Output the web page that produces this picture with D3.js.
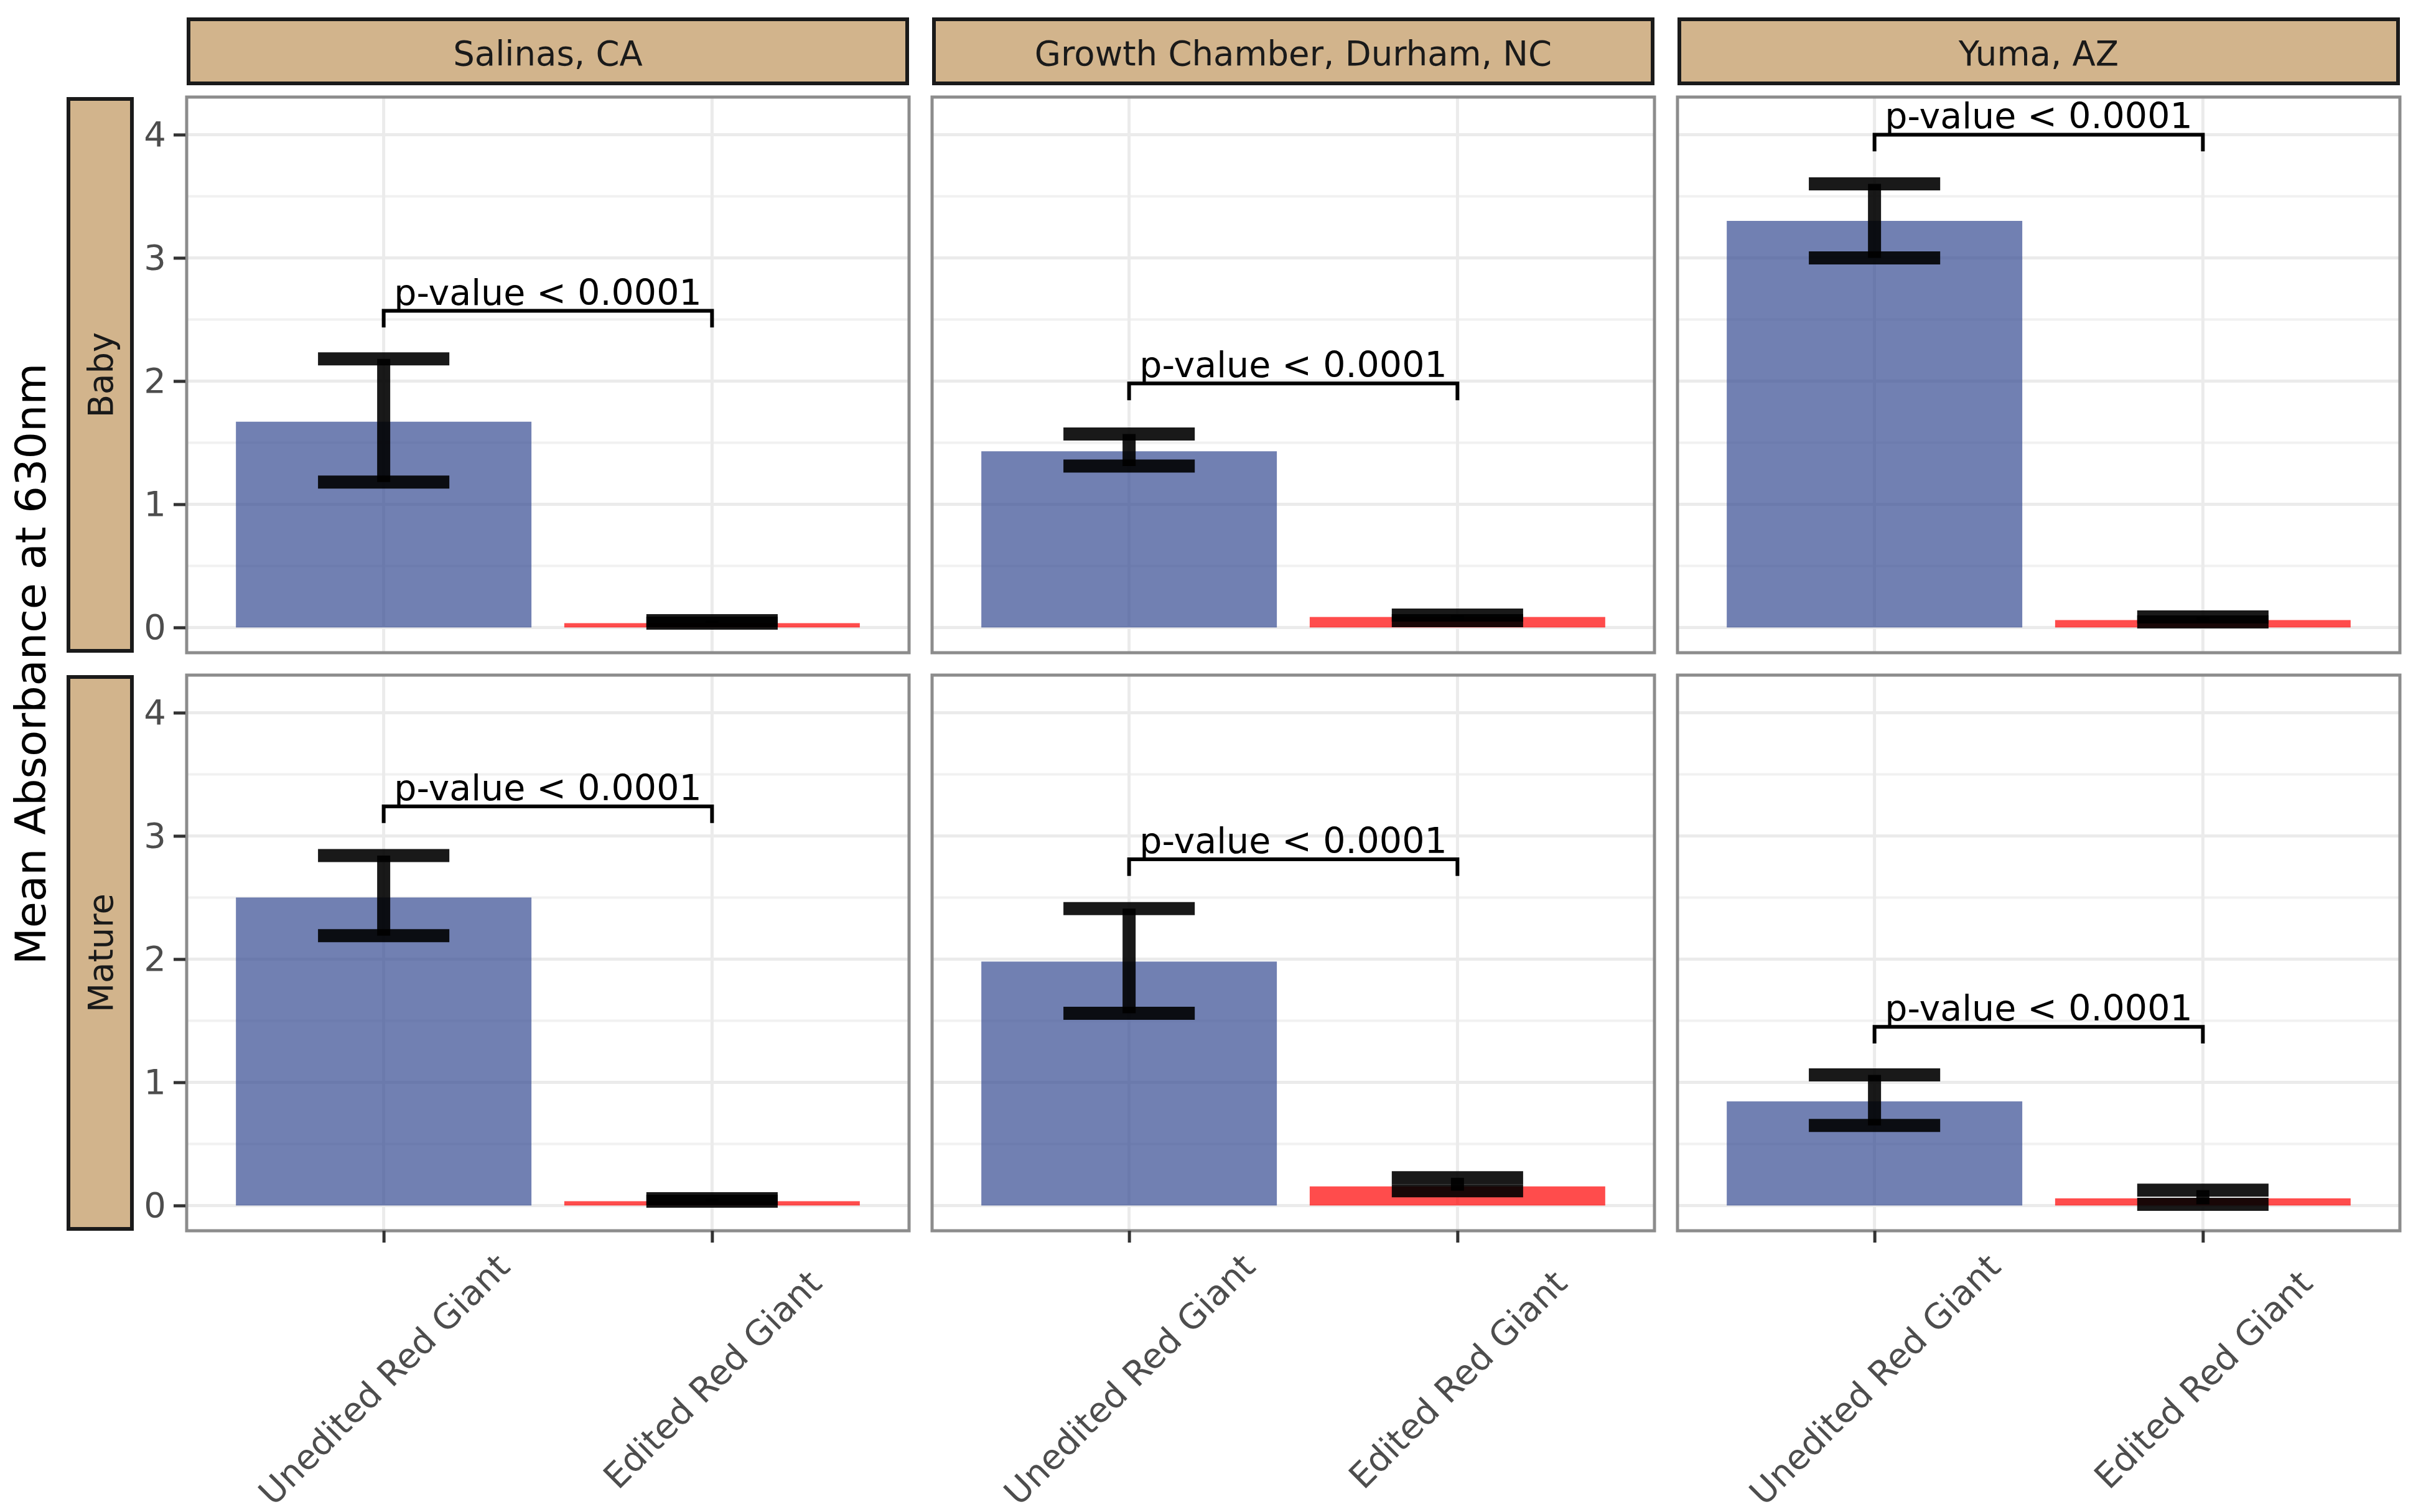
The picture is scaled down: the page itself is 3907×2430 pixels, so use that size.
<!DOCTYPE html>
<html>
<head>
<meta charset="utf-8">
<script src="https://cdn.jsdelivr.net/npm/d3@7"></script>
<style>
  html, body { margin: 0; padding: 0; background: #fff; }
  svg { display: block; font-family: "DejaVu Sans", sans-serif; }
</style>
</head>
<body>
<svg id="chart" width="3907" height="2430"></svg>
<script>
// facet labels
var locations = ["Salinas, CA", "Growth Chamber, Durham, NC", "Yuma, AZ"];
var stages = ["Baby", "Mature"];
var genotypes = ["Unedited Red Giant", "Edited Red Giant"];

// mean absorbance [location][genotype]
var meanBaby   = [[1.67, 0.035], [1.43, 0.085], [3.30, 0.06]];
var lowBaby    = [[1.18, 0.035], [1.31, 0.055], [3.00, 0.045]];
var highBaby   = [[2.18, 0.055], [1.57, 0.10],  [3.60, 0.085]];
var meanMature = [[2.50, 0.035], [1.98, 0.155], [0.845, 0.058]];
var lowMature  = [[2.19, 0.035], [1.56, 0.12],  [0.65, 0.01]];
var highMature = [[2.84, 0.055], [2.41, 0.225], [1.06, 0.125]];

// significance brackets [stage][location]
var bracketY = [[2.57, 1.98, 4.00], [3.24, 2.81, 1.45]];
var pLabel = "p-value < 0.0001";

var yTicks = [0, 1, 2, 3, 4];
var yMinor = [0.5, 1.5, 2.5, 3.5];

var rows = [
  { mean: meanBaby, low: lowBaby, high: highBaby },
  { mean: meanMature, low: lowMature, high: highMature }
];

var fills = ["#344A91", "#FF0000"];

// layout
var panelW = 1161, panelH = 893;
var colX = [300, 1498, 2696];
var rowY = [156, 1085];

var svg = d3.select("#chart");

var x = d3.scaleLinear().domain([0.4, 2.6]).range([0, panelW]);
var y = d3.scaleLinear().domain([-0.205, 4.305]).range([panelH, 0]);
var unit = x(1) - x(0);

// column strips
locations.forEach(function(loc, c) {
  var g = svg.append("g").attr("transform", "translate(" + colX[c] + ",28)");
  g.append("rect")
    .attr("x", 3).attr("y", 3)
    .attr("width", panelW - 6).attr("height", 103)
    .attr("fill", "#D2B48C").attr("stroke", "#1A1A1A").attr("stroke-width", 6);
  g.append("text")
    .attr("x", panelW / 2).attr("y", 77)
    .attr("text-anchor", "middle")
    .attr("font-size", 54.5).attr("fill", "#1A1A1A")
    .text(loc);
});

// row strips
stages.forEach(function(st, r) {
  var g = svg.append("g").attr("transform", "translate(107," + rowY[r] + ")");
  g.append("rect")
    .attr("x", 3).attr("y", 3)
    .attr("width", 102).attr("height", panelH - 6)
    .attr("fill", "#D2B48C").attr("stroke", "#1A1A1A").attr("stroke-width", 6);
  g.append("text")
    .attr("transform", "translate(74," + (panelH / 2) + ") rotate(-90)")
    .attr("text-anchor", "middle")
    .attr("font-size", 54.5).attr("fill", "#1A1A1A")
    .text(st);
});

// y title
svg.append("text")
  .attr("transform", "translate(73," + (rowY[0] + (rowY[1] + panelH - rowY[0]) / 2) + ") rotate(-90)")
  .attr("text-anchor", "middle")
  .attr("font-size", 68.5).attr("fill", "#000")
  .text("Mean Absorbance at 630nm");

rows.forEach(function(row, r) {
  locations.forEach(function(loc, c) {
    var g = svg.append("g").attr("transform", "translate(" + colX[c] + "," + rowY[r] + ")");

    // grid
    g.selectAll(".minor").data(yMinor).enter().append("line")
      .attr("x1", 0).attr("x2", panelW)
      .attr("y1", function(d) { return y(d); }).attr("y2", function(d) { return y(d); })
      .attr("stroke", "#F1F1F1").attr("stroke-width", 4);
    g.selectAll(".major").data(yTicks).enter().append("line")
      .attr("x1", 0).attr("x2", panelW)
      .attr("y1", function(d) { return y(d); }).attr("y2", function(d) { return y(d); })
      .attr("stroke", "#EBEBEB").attr("stroke-width", 5);
    g.selectAll(".vmajor").data([1, 2]).enter().append("line")
      .attr("x1", function(d) { return x(d); }).attr("x2", function(d) { return x(d); })
      .attr("y1", 0).attr("y2", panelH)
      .attr("stroke", "#EBEBEB").attr("stroke-width", 5);

    // bars
    var data = genotypes.map(function(gt, i) {
      return { i: i + 1, mean: row.mean[c][i], low: row.low[c][i], high: row.high[c][i] };
    });
    g.selectAll(".bar").data(data).enter().append("rect")
      .attr("x", function(d) { return x(d.i - 0.45); })
      .attr("width", unit * 0.9)
      .attr("y", function(d) { return y(d.mean); })
      .attr("height", function(d) { return y(0) - y(d.mean); })
      .attr("fill", function(d) { return fills[d.i - 1]; })
      .attr("fill-opacity", 0.7);

    // error bars
    var eb = g.selectAll(".eb").data(data).enter().append("g")
      .attr("stroke", "#000").attr("stroke-opacity", 0.9).attr("stroke-width", 21);
    eb.append("line")
      .attr("x1", function(d) { return x(d.i); }).attr("x2", function(d) { return x(d.i); })
      .attr("y1", function(d) { return y(d.low); }).attr("y2", function(d) { return y(d.high); });
    eb.append("line")
      .attr("x1", function(d) { return x(d.i - 0.2); }).attr("x2", function(d) { return x(d.i + 0.2); })
      .attr("y1", function(d) { return y(d.high); }).attr("y2", function(d) { return y(d.high); });
    eb.append("line")
      .attr("x1", function(d) { return x(d.i - 0.2); }).attr("x2", function(d) { return x(d.i + 0.2); })
      .attr("y1", function(d) { return y(d.low); }).attr("y2", function(d) { return y(d.low); });

    // significance bracket
    var by = bracketY[r][c];
    var tip = 0.03 * (y.domain()[1] - y.domain()[0]);
    g.append("path")
      .attr("d", d3.line()([[x(1), y(by - tip)], [x(1), y(by)], [x(2), y(by)], [x(2), y(by - tip)]]))
      .attr("fill", "none").attr("stroke", "#000").attr("stroke-width", 6);
    g.append("text")
      .attr("x", x(1.5)).attr("y", y(by) - 10)
      .attr("text-anchor", "middle")
      .attr("font-size", 57).attr("fill", "#000")
      .text(pLabel);

    // panel border
    g.append("rect")
      .attr("x", 0).attr("y", 0).attr("width", panelW).attr("height", panelH)
      .attr("fill", "none").attr("stroke", "#8C8C8C").attr("stroke-width", 5);

    // y axis on first column
    if (c === 0) {
      var ya = g.append("g").attr("transform", "translate(-2,0)")
        .call(d3.axisLeft(y).tickValues(yTicks).tickSize(19).tickPadding(12).tickFormat(d3.format("d")));
      ya.select(".domain").remove();
      ya.selectAll("line").attr("stroke", "#333").attr("stroke-width", 5);
      ya.selectAll("text").attr("font-size", 56).attr("fill", "#4D4D4D")
        .attr("font-family", "DejaVu Sans");
    }

    // x axis on bottom row
    if (r === rows.length - 1) {
      var xa = g.append("g").attr("transform", "translate(0," + panelH + ")")
        .call(d3.axisBottom(x).tickValues([1, 2]).tickSize(19)
          .tickFormat(function(d) { return genotypes[d - 1]; }));
      xa.select(".domain").remove();
      xa.selectAll("line").attr("stroke", "#333").attr("stroke-width", 5);
      xa.selectAll("text")
        .attr("font-size", 55.5).attr("fill", "#4D4D4D")
        .attr("font-family", "DejaVu Sans")
        .attr("y", 0).attr("dy", "0.35em")
        .attr("text-anchor", "middle")
        .attr("transform", "translate(0,239) rotate(-45)");
    }
  });
});
</script>
</body>
</html>
